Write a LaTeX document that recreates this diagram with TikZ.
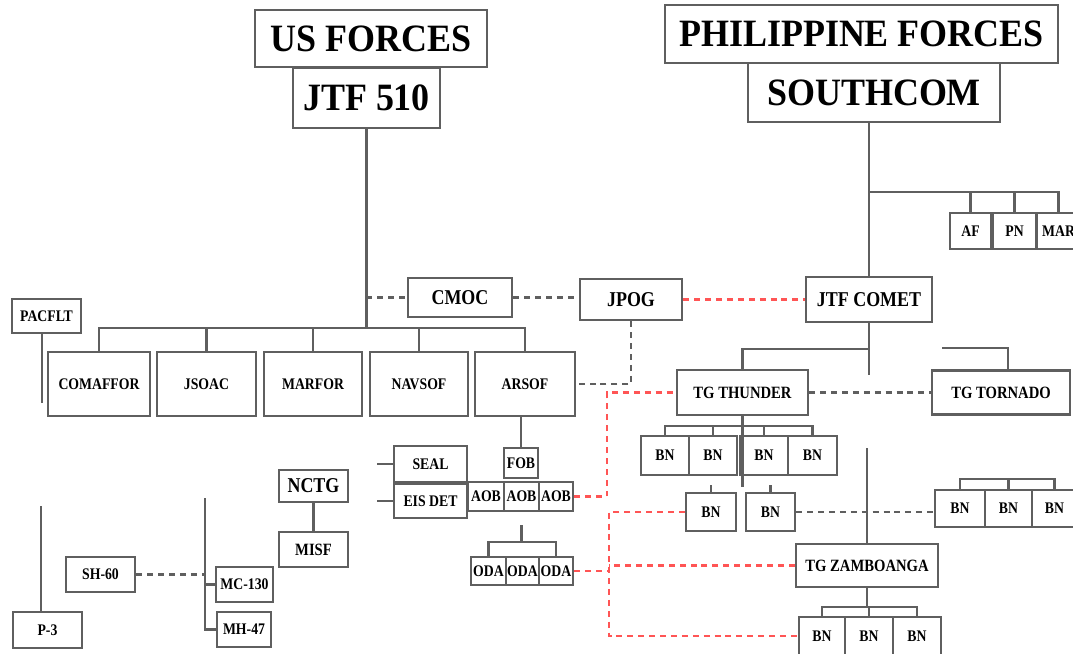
\documentclass[tikz,border=0pt]{standalone}
\usepackage{fontspec}
\usepackage{xcolor}
\newfontfamily\chartfont{Liberation Serif}[FakeStretch=0.85]
\newfontfamily\headfont{Liberation Serif}[FakeStretch=0.93]
\usetikzlibrary{positioning, calc}
\definecolor{linegray}{RGB}{95,95,95}
\definecolor{linkred}{RGB}{255,85,85}
\tikzset{
	unit/.style={rectangle, draw=linegray, line width=0.75pt, inner sep=0pt, font=\chartfont\bfseries\fontsize{4.6}{5}\selectfont},
	head/.style={unit, font=\headfont\bfseries\fontsize{11}{12}\selectfont},
	cmd/.style={unit, font=\chartfont\bfseries\fontsize{6}{7}\selectfont},
	tg/.style={unit, font=\chartfont\bfseries\fontsize{4.9}{6}\selectfont},
	link/.style={draw=linegray, line width=0.75pt},
	coord/.style={draw=linegray, line width=0.7pt, dash pattern=on 1.7pt off 1.4pt},
	redlink/.style={draw=linkred, line width=0.7pt, dash pattern=on 1.7pt off 1.4pt}
}

\begin{document}
\begin{tikzpicture}[x=0.01cm, y=-0.01cm]
	\useasboundingbox (0,0) rectangle (1073,653);
	% US headquarters
	\node[head, minimum width=2.32cm, minimum height=0.57cm] (usforces) at (371,38.5) {US FORCES};
	\node[head, minimum width=1.47cm, minimum height=0.60cm] (jtf510) at (366.5,98) {JTF 510};
	% Philippine headquarters
	\node[head, minimum width=3.93cm, minimum height=0.58cm] (phforces) at (861.5,34) {PHILIPPINE FORCES};
	\node[head, minimum width=2.52cm, minimum height=0.59cm] (southcom) at (874,92.5) {SOUTHCOM};
	\node[unit, minimum width=0.41cm, minimum height=0.36cm] (af) at (970.5,231) {AF};
	\node[unit, minimum width=0.43cm, minimum height=0.36cm] (pn) at (1014.5,231) {PN};
	\node[unit, minimum width=0.43cm, minimum height=0.36cm] (mar) at (1058.5,231) {MAR};
	\coordinate (phbus) at (870,192);
	\draw[link] (phbus) -| (mar.north);
	\draw[link] (af.north) -- (af.north |- phbus);
	\draw[link] (pn.north) -- (pn.north |- phbus);

	% coordination row
	\node[cmd, minimum width=1.04cm, minimum height=0.39cm] (cmoc) at (460,297.5) {CMOC};
	\node[cmd, minimum width=1.02cm, minimum height=0.41cm] (jpog) at (631,299.5) {JPOG};
	\node[cmd, minimum width=1.26cm, minimum height=0.45cm] (comet) at (869,299.5) {JTF COMET};
	\node[unit, minimum width=0.69cm, minimum height=0.34cm] (pacflt) at (46.5,316) {PACFLT};
	\draw[link] (southcom.south -| comet.north) -- (comet.north);

	% US components
	\node[unit, minimum width=1.02cm, minimum height=0.64cm] (comaffor) at (99,384) {COMAFFOR};
	\node[unit, minimum width=0.99cm, minimum height=0.64cm] (jsoac) at (206.5,384) {JSOAC};
	\node[unit, minimum width=0.98cm, minimum height=0.64cm] (marfor) at (313,384) {MARFOR};
	\node[unit, minimum width=0.98cm, minimum height=0.64cm] (navsof) at (419,384) {NAVSOF};
	\node[unit, minimum width=1.00cm, minimum height=0.64cm] (arsof) at (525,384) {ARSOF};
	\coordinate (usbus) at (366.5,328);
	\draw[link] (jtf510.south) -- (usbus);
	\draw[link] (comaffor.north) |- (usbus) -| (arsof.north);
	\foreach \n in {jsoac,marfor,navsof}
		\draw[link] (\n.north) -- (\n.north |- usbus);
	\coordinate (pacend) at (42,403);
	\draw[link] (pacflt.south -| pacend) -- (pacend);
	\draw[coord] (cmoc.west -| usbus) -- (cmoc.west);
	\draw[coord] (cmoc.east) -- (cmoc.east -| jpog.west);
	\draw[redlink] (jpog.east) -- (comet.west);
	\draw[coord] (jpog.south) |- (arsof.east);

	% task groups
	\node[tg, minimum width=1.31cm, minimum height=0.45cm] (thunder) at (742.5,392.5) {TG THUNDER};
	\node[tg, minimum width=1.38cm, minimum height=0.44cm] (tornado) at (1001,392.5) {TG TORNADO};
	\node[tg, minimum width=1.42cm, minimum height=0.43cm] (zamb) at (867,565.5) {TG ZAMBOANGA};
	\coordinate (cometbus) at (869,349);
	\coordinate (cometend) at (869,375);
	\draw[link] (comet.south) -- (cometend);
	\draw[link] (thunder.north) |- (cometbus);
	\coordinate (tornbus) at (942,348);
	\draw[link] (tornbus) -| ([xshift=0.07cm]tornado.north);
	\draw[coord] (thunder.east) -- (tornado.west);

	% TG Thunder battalions
	\node[unit, minimum width=0.48cm, minimum height=0.39cm] (tbn1) at (665,455.5) {BN};
	\node[unit, minimum width=0.48cm, minimum height=0.39cm] (tbn2) at (713,455.5) {BN};
	\node[unit, minimum width=0.48cm, minimum height=0.39cm] (tbn3) at (764,455.5) {BN};
	\node[unit, minimum width=0.49cm, minimum height=0.39cm] (tbn4) at (812.5,455.5) {BN};
	\node[unit, minimum width=0.50cm, minimum height=0.38cm] (tbn5) at (711,512) {BN};
	\node[unit, minimum width=0.49cm, minimum height=0.38cm] (tbn6) at (770.5,512) {BN};
	\coordinate (tbnbus) at (742.5,426);
	\coordinate (tbnend) at (742.5,487);
	\draw[link] (thunder.south) -- (tbnend);
	\draw[link] (tbn1.north) |- (tbnbus) -| (tbn4.north);
	\foreach \n in {tbn2,tbn3}
		\draw[link] (\n.north) -- (\n.north |- tbnbus);
	\draw[link] (tbn5.north) -- ++(0,-7);
	\draw[link] (tbn6.north) -- ++(0,-7);

	% TG Tornado battalions
	\node[unit, minimum width=0.50cm, minimum height=0.37cm] (rbn1) at (960,508.5) {BN};
	\node[unit, minimum width=0.47cm, minimum height=0.37cm] (rbn2) at (1008.5,508.5) {BN};
	\node[unit, minimum width=0.45cm, minimum height=0.37cm] (rbn3) at (1054.5,508.5) {BN};
	\coordinate (rbnbus) at (1007,479);
	\draw[link] (rbn1.north) |- (rbnbus) -| (rbn3.north);
	\draw[link] (rbn2.north) -- (rbn2.north |- rbnbus);
	\draw[coord] (tbn6.east) -- (tbn6.east -| rbn1.west);

	% TG Zamboanga battalions
	\node[unit, minimum width=0.46cm, minimum height=0.38cm] (zbn1) at (822,636) {BN};
	\node[unit, minimum width=0.48cm, minimum height=0.38cm] (zbn2) at (869,636) {BN};
	\node[unit, minimum width=0.48cm, minimum height=0.38cm] (zbn3) at (917,636) {BN};
	\coordinate (zambtop) at (867,448);
	\coordinate (zbus) at (867,607);
	\draw[link] (zambtop) -- (zamb.north);
	\draw[link] (zamb.south) -- (zbus);
	\draw[link] (zbn1.north) |- (zbus) -| (zbn3.north);
	\draw[link] (zbn2.north) -- (zbn2.north |- zbus);

	% ARSOF elements
	\node[unit, minimum width=0.34cm, minimum height=0.30cm] (fob) at (521,463) {FOB};
	\node[unit, minimum width=0.36cm, minimum height=0.29cm] (aob1) at (486,496.5) {AOB};
	\node[unit, minimum width=0.35cm, minimum height=0.29cm] (aob2) at (521.5,496.5) {AOB};
	\node[unit, minimum width=0.34cm, minimum height=0.29cm] (aob3) at (556,496.5) {AOB};
	\node[unit, minimum width=0.35cm, minimum height=0.28cm] (oda1) at (488.5,571) {ODA};
	\node[unit, minimum width=0.33cm, minimum height=0.28cm] (oda2) at (522.5,571) {ODA};
	\node[unit, minimum width=0.34cm, minimum height=0.28cm] (oda3) at (556,571) {ODA};
	\draw[link] (arsof.south -| fob.north) -- (fob.north);
	\coordinate (odatop) at (521.5,525);
	\coordinate (odabus) at (521.5,542);
	\draw[link] (odatop) -- (odabus);
	\draw[link] (oda1.north) |- (odabus) -| (oda3.north);

	% red liaison lines
	\coordinate (redtop) at (607,392.5);
	\coordinate (redup) at (609,511);
	\coordinate (redlow) at (609,636);
	\draw[redlink] (aob3.east) -| (redtop) -- (thunder.west);
	\draw[redlink] (tbn5.west) -- (tbn5.west -| redup) -- (redlow) -- (zbn1.west);
	\draw[redlink] (oda3.east) -- (oda3.east -| redup);
	\draw[redlink] (zamb.west) -- (zamb.west -| redup);

	% NAVSOF elements
	\node[unit, minimum width=0.73cm, minimum height=0.36cm] (seal) at (430.5,464) {SEAL};
	\node[unit, minimum width=0.73cm, minimum height=0.34cm] (eisdet) at (430.5,501) {EIS DET};
	\node[cmd, minimum width=0.69cm, minimum height=0.32cm] (nctg) at (313.5,486) {NCTG};
	\node[tg, minimum width=0.69cm, minimum height=0.35cm] (misf) at (313.5,549.5) {MISF};
	\coordinate (sealend) at (377,464);
	\coordinate (eisend) at (377,501);
	\draw[link] (seal.west) -- (sealend);
	\draw[link] (eisdet.west) -- (eisend);
	\draw[link] (nctg.south) -- (misf.north);

	% aircraft
	\node[unit, minimum width=0.69cm, minimum height=0.35cm] (sh60) at (100.5,574.5) {SH-60};
	\node[unit, minimum width=0.57cm, minimum height=0.35cm] (mc130) at (244.5,584.5) {MC-130};
	\node[unit, minimum width=0.54cm, minimum height=0.35cm] (mh47) at (244,629.5) {MH-47};
	\node[unit, minimum width=0.69cm, minimum height=0.36cm] (p3) at (47.5,630) {P-3};
	\coordinate (airtop) at (205,498);
	\coordinate (p3top) at (41,506);
	\draw[link] (airtop) |- (mh47.west);
	\draw[link] (mc130.west -| airtop) -- (mc130.west);
	\draw[coord] (sh60.east) -- (sh60.east -| airtop);
	\draw[link] (p3top) -- (p3top |- p3.north);
\end{tikzpicture}
\end{document}
